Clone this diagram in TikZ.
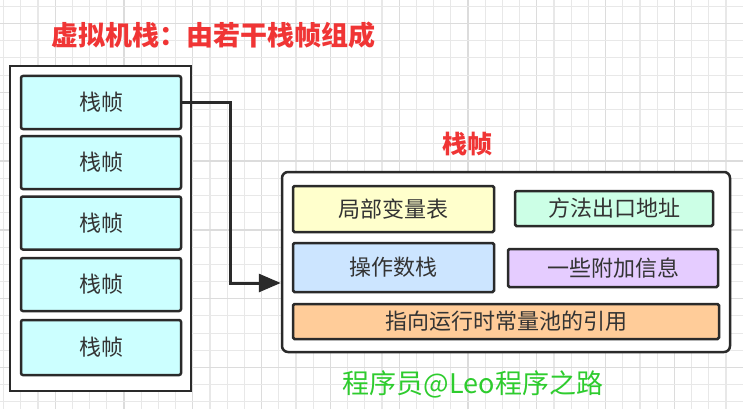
\documentclass[tikz,border=0pt]{standalone}
\usepackage{fontspec}
\newfontfamily\cjk{Noto Sans CJK SC}
\usetikzlibrary{arrows.meta,calc}
\definecolor{gridc}{HTML}{E8E8E8}
\definecolor{gridm}{HTML}{DCDCDC}
\definecolor{edge}{HTML}{2A2A2A}
\definecolor{cyanf}{HTML}{CCFFFF}
\definecolor{yellowf}{HTML}{FFFFCC}
\definecolor{mintf}{HTML}{CCFFE6}
\definecolor{bluef}{HTML}{CCE5FF}
\definecolor{lavf}{HTML}{E5CCFF}
\definecolor{orangef}{HTML}{FFCC99}
\definecolor{titlered}{HTML}{F03535}
\definecolor{txtgreen}{HTML}{2ECC2E}
\definecolor{txtc}{HTML}{333333}
\tikzset{
  framebox/.style={draw=edge, line width=2.5pt, rounded corners=2pt, fill=cyanf, minimum width=160pt, minimum height=53pt, inner sep=0pt, font=\cjk\fontsize{22}{22}\selectfont, text=txtc},
  partbox/.style={draw=edge, line width=2.5pt, rounded corners=1.5pt, inner sep=0pt, font=\cjk\fontsize{22}{22}\selectfont, text=txtc},
  container/.style={draw=edge, line width=2pt, inner sep=0pt},
  conn/.style={draw=edge, line width=3pt, -{Triangle[length=22pt,width=18pt]}},
}
\begin{document}
\begin{tikzpicture}[x=1pt,y=-1pt]
\useasboundingbox (0,0) rectangle (743,409);
\fill[white] (0,0) rectangle (743,409);
% grid
\foreach \i in {0,...,43} {
  \pgfmathsetmacro{\xx}{3.6+17.2*\i}
  \pgfmathtruncatemacro{\m}{mod(\i+1,4)}
  \ifnum\m=0 \draw[gridm, line width=1.3pt] (\xx,0) -- (\xx,409); \else \draw[gridc, line width=1.1pt] (\xx,0) -- (\xx,409); \fi
}
\foreach \j in {0,...,23} {
  \pgfmathsetmacro{\yy}{6.3+17.2*\j}
  \pgfmathtruncatemacro{\m}{mod(\j+3,4)}
  \ifnum\m=0 \draw[gridm, line width=1.3pt] (0,\yy) -- (743,\yy); \else \draw[gridc, line width=1.1pt] (0,\yy) -- (743,\yy); \fi
}
% title
\node[font=\cjk\bfseries\fontsize{27}{27}\selectfont, text=titlered] (title) at (213.5,35) {虚拟机栈：由若干栈帧组成};
% left stack
\node[container, fill=white, minimum width=181pt, minimum height=325pt] (stack) at (100.5,228.5) {};
\node[framebox] (f1) at (101,102.5) {栈帧};
\node[framebox] (f2) at (101,162.5) {栈帧};
\node[framebox] (f3) at (101,223) {栈帧};
\node[framebox] (f4) at (101,284.5) {栈帧};
\node[framebox, minimum height=55pt] (f5) at (101,347.5) {栈帧};
% right frame
\node[font=\cjk\bfseries\fontsize{25}{25}\selectfont, text=titlered] (rtitle) at (467.5,144) {栈帧};
\node[container, fill=white, rounded corners=6pt, line width=2.5pt, minimum width=448pt, minimum height=180pt] (rf) at (506,262) {};
\node[partbox, fill=yellowf, minimum width=201pt, minimum height=46pt] (lv) at (393.5,209) {局部变量表};
\node[partbox, fill=mintf, minimum width=198pt, minimum height=35pt] (ra) at (614,208.5) {方法出口地址};
\node[partbox, fill=bluef, minimum width=201pt, minimum height=49pt] (os) at (393.5,267.5) {操作数栈};
\node[partbox, fill=lavf, minimum width=210pt, minimum height=38pt] (ai) at (613,268) {一些附加信息};
\node[partbox, fill=orangef, minimum width=426pt, minimum height=35pt] (cp) at (506,321.5) {指向运行时常量池的引用};
% connector
\coordinate (bend) at (230,283);
\draw[conn] (f1.east) -| (bend) -- (bend -| rf.west);
% footer
\node[font=\cjk\fontsize{27}{27}\selectfont, text=txtgreen] (foot) at (473,384) {程序员@Leo程序之路};
\end{tikzpicture}
\end{document}
